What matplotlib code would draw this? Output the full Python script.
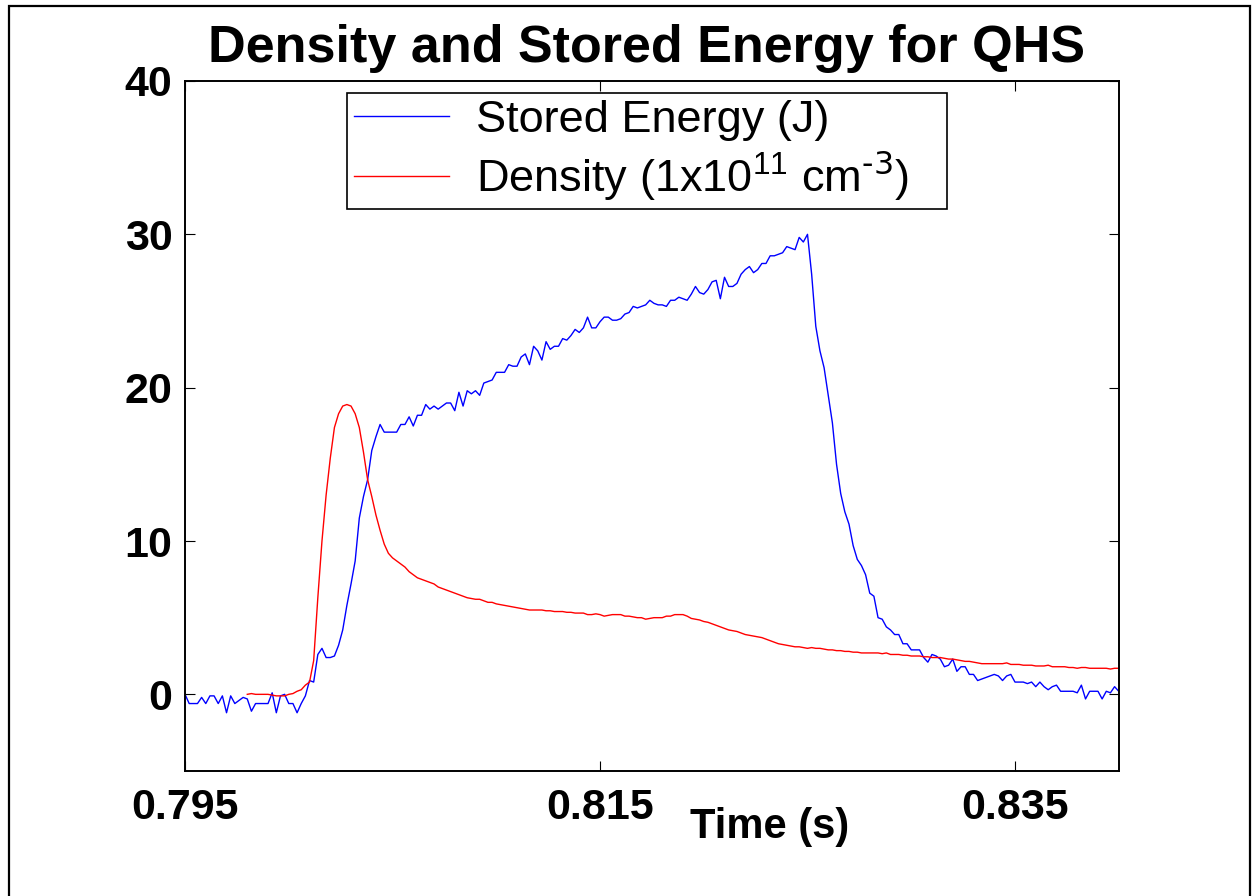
import numpy as np
import matplotlib.pyplot as plt
from matplotlib.patches import Rectangle

plt.rcParams['font.family'] = ['Liberation Sans', 'DejaVu Sans']
plt.rcParams['mathtext.default'] = 'regular'

# stored energy (J), sampled every 0.2 ms from 0.795 s
energy_t0, energy_dt = 0.795, 0.0002
energy = [
    0.0, -0.6, -0.6, -0.6, -0.2, -0.6, -0.1, -0.1, -0.6, -0.1,
    -1.2, -0.1, -0.6, -0.4, -0.2, -0.3, -1.1, -0.6, -0.6, -0.6,
    -0.6, 0.1, -1.2, -0.1, 0.0, -0.6, -0.6, -1.2, -0.6, -0.1,
    0.9, 0.8, 2.6, 3.0, 2.4, 2.4, 2.5, 3.2, 4.2, 5.8,
    7.2, 8.7, 11.5, 12.9, 14.0, 15.9, 16.8, 17.6, 17.1, 17.1,
    17.1, 17.1, 17.6, 17.6, 18.1, 17.5, 18.2, 18.2, 18.9, 18.6,
    18.8, 18.6, 18.8, 19.0, 19.0, 18.5, 19.7, 18.8, 19.8, 19.6,
    19.8, 19.5, 20.3, 20.4, 20.5, 21.0, 21.0, 21.0, 21.5, 21.4,
    21.4, 22.0, 22.2, 21.5, 22.7, 22.4, 21.8, 23.0, 22.5, 22.7,
    22.7, 23.2, 23.1, 23.4, 23.8, 23.6, 23.9, 24.6, 23.9, 23.9,
    24.3, 24.6, 24.6, 24.4, 24.4, 24.5, 24.8, 24.9, 25.3, 25.2,
    25.3, 25.4, 25.7, 25.5, 25.4, 25.4, 25.3, 25.7, 25.7, 25.9,
    25.8, 25.7, 26.1, 26.6, 26.2, 26.1, 26.4, 26.9, 27.0, 25.8,
    27.2, 26.6, 26.6, 26.8, 27.4, 27.7, 27.9, 27.5, 27.7, 28.1,
    28.1, 28.6, 28.6, 28.7, 28.8, 29.2, 29.1, 29.0, 29.8, 29.5,
    30.0, 27.4, 24.0, 22.4, 21.3, 19.5, 17.7, 15.0, 13.1, 11.9,
    11.1, 9.7, 8.8, 8.4, 7.8, 6.6, 6.4, 5.0, 4.9, 4.4,
    4.2, 3.9, 3.9, 3.3, 3.3, 2.9, 2.9, 2.9, 2.4, 2.1,
    2.6, 2.5, 2.3, 1.8, 1.9, 2.3, 1.5, 1.8, 1.8, 1.3,
    1.3, 0.9, 1.0, 1.1, 1.2, 1.3, 1.2, 0.9, 1.2, 1.3,
    0.8, 0.8, 0.8, 0.7, 0.8, 0.5, 0.8, 0.5, 0.3, 0.5,
    0.6, 0.2, 0.2, 0.2, 0.2, 0.1, 0.6, -0.3, 0.2, 0.2,
    0.2, -0.3, 0.2, 0.1, 0.5, 0.2,
]

# density (1e11 cm^-3), sampled every 0.2 ms from 0.798 s
density_t0, density_dt = 0.798, 0.0002
density = [
    0.0, 0.05, 0.0, 0.0, 0.0, 0.0, -0.05, -0.1, -0.1, -0.1,
    0.0, 0.05, 0.2, 0.3, 0.6, 0.8, 2.2, 6.3, 10.0, 13.0,
    15.4, 17.4, 18.3, 18.8, 18.9, 18.8, 18.3, 17.4, 15.8, 14.0,
    12.9, 11.7, 10.7, 9.8, 9.2, 8.9, 8.7, 8.5, 8.3, 8.0,
    7.8, 7.6, 7.5, 7.4, 7.3, 7.2, 7.0, 6.9, 6.8, 6.7,
    6.6, 6.5, 6.4, 6.3, 6.25, 6.2, 6.2, 6.1, 6.0, 6.0,
    5.9, 5.85, 5.8, 5.75, 5.7, 5.65, 5.6, 5.55, 5.5, 5.5,
    5.5, 5.5, 5.45, 5.45, 5.4, 5.4, 5.4, 5.35, 5.35, 5.3,
    5.3, 5.3, 5.2, 5.2, 5.25, 5.2, 5.1, 5.15, 5.2, 5.2,
    5.2, 5.1, 5.1, 5.05, 5.0, 5.0, 4.9, 4.95, 5.0, 5.0,
    5.0, 5.1, 5.1, 5.2, 5.2, 5.2, 5.1, 4.95, 4.9, 4.85,
    4.75, 4.7, 4.6, 4.5, 4.4, 4.3, 4.2, 4.15, 4.1, 4.0,
    3.9, 3.85, 3.8, 3.75, 3.7, 3.6, 3.5, 3.4, 3.3, 3.25,
    3.2, 3.15, 3.1, 3.1, 3.05, 3.0, 3.05, 3.0, 3.0, 2.95,
    2.9, 2.9, 2.85, 2.85, 2.8, 2.8, 2.75, 2.75, 2.7, 2.7,
    2.7, 2.7, 2.7, 2.65, 2.7, 2.6, 2.6, 2.6, 2.55, 2.55,
    2.5, 2.5, 2.5, 2.45, 2.45, 2.4, 2.4, 2.4, 2.35, 2.3,
    2.3, 2.25, 2.2, 2.15, 2.15, 2.1, 2.05, 2.0, 2.0, 2.0,
    2.0, 2.0, 2.0, 2.05, 1.95, 1.95, 1.95, 1.9, 1.9, 1.9,
    1.85, 1.85, 1.85, 1.9, 1.8, 1.8, 1.8, 1.8, 1.75, 1.75,
    1.7, 1.75, 1.75, 1.7, 1.7, 1.7, 1.7, 1.7, 1.65, 1.7,
    1.7,
]

energy_time = energy_t0 + energy_dt*np.arange(len(energy))
density_time = density_t0 + density_dt*np.arange(len(density))

xticks = [0.795, 0.815, 0.835]
yticks = [0, 10, 20, 30, 40]

fig = plt.figure(figsize=(12.57, 8.96), dpi=100)
ax = fig.add_axes([0.1472, 0.1395, 0.7428, 0.7701])

ax.plot(energy_time, energy, color='#0000ff', lw=1.0, label='Stored Energy (J)')
ax.plot(density_time, density, color='#ff0000', lw=1.0,
        label=r'Density (1x10$^{11}$ cm$^{\text{-3}}$)')

ax.set_xlim(0.795, 0.84)
ax.set_ylim(-5, 40)
ax.set_xticks(xticks)
ax.set_xticklabels(['%.3f' % v for v in xticks])
ax.set_yticks(yticks)
ax.tick_params(direction='in', top=True, right=True, length=7, width=0.8,
               labelsize=31, pad=9)
ax.tick_params(axis='x', pad=12)
for lab in ax.get_xticklabels() + ax.get_yticklabels():
    lab.set_fontweight('bold')
for sp in ax.spines.values():
    sp.set_linewidth(1.4)

leg = ax.legend(loc='upper left', bbox_to_anchor=(0.1735, 0.9826, 0.6425, 0.0),
                mode='expand', borderaxespad=0, fontsize=32.5, fancybox=False,
                edgecolor='black', framealpha=1, handlelength=2.1,
                handletextpad=0.6, labelspacing=0.18, borderpad=0.15)
leg.get_frame().set_linewidth(1.2)

fig.text(0.5147, 0.9308, 'Density and Stored Energy for QHS', ha='center',
         va='baseline', fontsize=37.5, fontweight='bold')
fig.text(0.6126, 0.0647, 'Time (s)', ha='center', va='baseline',
         fontsize=30, fontweight='bold')

# outer frame around the figure
fig.patches.append(Rectangle((0.0072, -0.02), 0.9872, 1.0133, transform=fig.transFigure,
                             fill=False, edgecolor='black', lw=1.6))

fig.savefig('out.png', dpi=100)
